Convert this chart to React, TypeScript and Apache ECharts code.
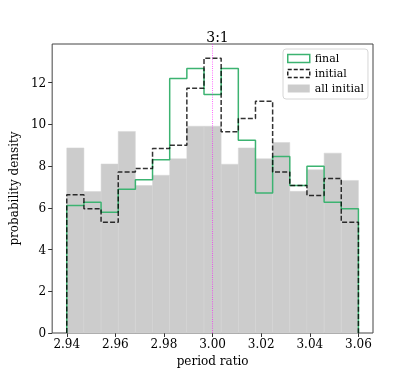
import React, { useEffect, useRef } from "react";
import * as echarts from "echarts";

const histMin = 2.94;
const histMax = 3.06;
const xTicks = [2.94, 2.96, 2.98, 3.0, 3.02, 3.04, 3.06];
const yTicks = [0, 2, 4, 6, 8, 10, 12];
const allInitial = [8.87, 6.78, 8.1, 9.66, 7.07, 7.56, 8.35, 9.91, 9.91, 8.09, 8.87, 8.35, 9.13, 6.79, 7.82, 8.62, 7.31];
const finalVals = [6.11, 6.27, 5.79, 6.89, 7.35, 8.3, 12.2, 12.68, 11.43, 12.68, 9.24, 6.71, 8.46, 7.07, 7.99, 6.27, 5.95];
const initialVals = [6.62, 5.95, 5.31, 7.72, 7.88, 8.84, 9.0, 11.73, 13.17, 9.64, 10.28, 11.11, 7.72, 7.07, 6.59, 7.4, 5.31];
const resonance = 3.0;

const FONT = "DejaVu Serif";

function edges(n: number): number[] {
  const w = (histMax - histMin) / n;
  const e: number[] = [];
  for (let i = 0; i <= n; i++) e.push(histMin + i * w);
  return e;
}

function stepPoints(vals: number[]): number[][] {
  const e = edges(vals.length);
  const pts: number[][] = [[e[0], 0]];
  vals.forEach((v, i) => {
    pts.push([e[i], v]);
    pts.push([e[i + 1], v]);
  });
  pts.push([e[vals.length], 0]);
  return pts;
}

export default function App() {
  const ref = useRef<HTMLDivElement>(null);
  useEffect(() => {
    if (!ref.current) return;
    const chart = echarts.init(ref.current, undefined, { renderer: "svg" });
    const e = edges(allInitial.length);
    const barData = allInitial.map((v, i) => [e[i], e[i + 1], v]);
    chart.setOption({
      animation: false,
      textStyle: { fontFamily: FONT },
      title: {
        text: "3:1",
        left: 212.5,
        top: 25,
        textAlign: "center",
        textStyle: { fontFamily: FONT, fontSize: 14, fontWeight: "normal", color: "#000" },
      },
      legend: {
        orient: "vertical",
        left: 283,
        top: 49,
        padding: [3, 4, 4, 4],
        itemGap: 2,
        itemWidth: 22,
        itemHeight: 8,
        backgroundColor: "#fff",
        borderColor: "#d6d6d6",
        borderWidth: 1,
        borderRadius: 3,
        textStyle: { fontFamily: FONT, fontSize: 11, color: "#000", lineHeight: 13 },
        data: [
          {
            name: "final",
            icon: "rect",
            itemStyle: { color: "rgba(0,0,0,0)", borderColor: "#3cb371", borderWidth: 1.5 },
          },
          {
            name: "initial",
            icon: "rect",
            itemStyle: { color: "rgba(0,0,0,0)", borderColor: "#222", borderWidth: 1.5, borderType: [4, 2] },
          },
          {
            name: "all initial",
            icon: "rect",
            itemStyle: { color: "#cccccc", borderWidth: 0 },
          },
        ],
      },
      grid: {
        left: 52,
        right: 42,
        top: 44,
        bottom: 41,
        show: true,
        borderColor: "#444",
        borderWidth: 1,
        backgroundColor: "transparent",
      },
      xAxis: {
        type: "value",
        min: 2.934,
        max: 3.066,
        name: "period ratio",
        nameLocation: "middle",
        nameGap: 17,
        nameTextStyle: { fontFamily: FONT, fontSize: 12, color: "#000", verticalAlign: "top" },
        axisLine: { show: false },
        splitLine: { show: false },
        axisTick: { show: true, length: 4, customValues: xTicks, lineStyle: { color: "#333" } },
        axisLabel: {
          customValues: xTicks,
          margin: 5,
          fontFamily: FONT,
          fontSize: 12,
          color: "#000",
          formatter: (v: number) => v.toFixed(2),
        },
      },
      yAxis: {
        type: "value",
        min: 0,
        max: 13.85,
        name: "probability density",
        nameLocation: "middle",
        nameGap: 28,
        nameTextStyle: { fontFamily: FONT, fontSize: 12, color: "#000" },
        axisLine: { show: false },
        splitLine: { show: false },
        axisTick: { show: true, length: 4, customValues: yTicks, lineStyle: { color: "#333" } },
        axisLabel: {
          customValues: yTicks,
          margin: 6,
          fontFamily: FONT,
          fontSize: 12,
          color: "#000",
        },
      },
      series: [
        {
          name: "all initial",
          type: "custom",
          itemStyle: { color: "#cccccc" },
          data: barData,
          encode: { x: [0, 1], y: 2 },
          renderItem: (params: any, api: any) => {
            const p0 = api.coord([api.value(0), api.value(2)]);
            const p1 = api.coord([api.value(1), 0]);
            return {
              type: "rect",
              shape: { x: p0[0], y: p0[1], width: p1[0] - p0[0], height: p1[1] - p0[1] },
              style: { fill: "#cccccc", stroke: "#d4d4d4", lineWidth: 0.5 },
            };
          },
        },
        {
          name: "final",
          type: "line",
          data: stepPoints(finalVals),
          showSymbol: false,
          symbol: "none",
          itemStyle: { color: "#3cb371" },
          lineStyle: { color: "#3cb371", width: 1.5 },
        },
        {
          name: "initial",
          type: "line",
          data: stepPoints(initialVals),
          showSymbol: false,
          symbol: "none",
          itemStyle: { color: "#222" },
          lineStyle: { color: "rgba(0,0,0,0.8)", width: 1.5, type: [5, 2.2] },
          markLine: {
            silent: true,
            symbol: ["none", "none"],
            label: { show: false },
            lineStyle: { color: "#ff00ff", type: [0.8, 1.4], width: 0.8, opacity: 0.9 },
            data: [{ xAxis: resonance }],
          },
        },
      ],
    });
    return () => chart.dispose();
  }, []);
  return (
    <div
      ref={ref}
      style={{ position: "fixed", left: 0, top: 0, width: 415, height: 374 }}
    />
  );
}
